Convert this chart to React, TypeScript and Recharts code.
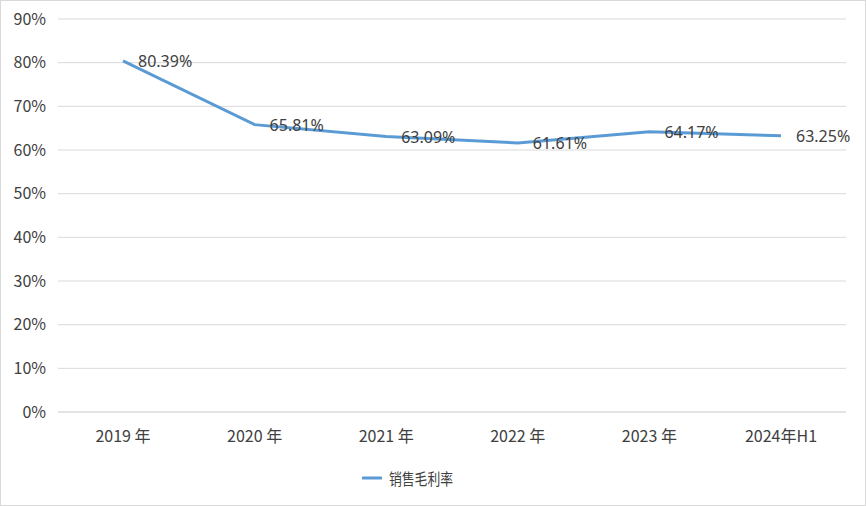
import React from "react";
import { LineChart, Line, XAxis, YAxis, CartesianGrid, LabelList } from "recharts";

const categories = ["2019 年", "2020 年", "2021 年", "2022 年", "2023 年", "2024年H1"];
const grossMargin = [80.39, 65.81, 63.09, 61.61, 64.17, 63.25];
const yTicks = [0, 10, 20, 30, 40, 50, 60, 70, 80, 90];
const seriesName = "销售毛利率";

const data = categories.map((name, i) => ({ name, value: grossMargin[i] }));

const LINE_COLOR = "#5B9BD5";
const TEXT_COLOR = "#404040";
const AXIS_FONT = "'Liberation Sans Narrow', 'Noto Sans CJK SC', sans-serif";
const LABEL_FONT = "'Noto Sans', 'Noto Sans CJK SC', sans-serif";

const ValueLabel = (props: any) => {
  const { x, y, value } = props;
  return (
    <text x={x + 15} y={y + 6} fontSize={16} fill={TEXT_COLOR} fontFamily={LABEL_FONT}>
      {`${value.toFixed(2)}%`}
    </text>
  );
};

const XTick = (props: any) => {
  const { x, y, payload } = props;
  return (
    <text x={x} y={y + 22} textAnchor="middle" fontSize={16} fill={TEXT_COLOR} fontFamily={AXIS_FONT}>
      {payload.value}
    </text>
  );
};

export default function App() {
  return (
    <div>
      <style>{`body{margin:0}`}</style>
      <div style={{ position: "relative", width: 866, height: 506, boxSizing: "border-box", border: "1px solid #d9d9d9", background: "#fff" }}>
        <div style={{ position: "absolute", left: -1, top: -1 }}>
          <LineChart width={866} height={506} data={data} margin={{ top: 19, right: 20, left: 0, bottom: 64 }}>
            <CartesianGrid vertical={false} stroke="#d9d9d9" strokeWidth={1} />
            <XAxis
              dataKey="name"
              height={30}
              axisLine={{ stroke: "#d9d9d9" }}
              tickLine={false}
              tick={<XTick />}
              interval={0}
              padding={{ left: 65, right: 65 }}
            />
            <YAxis
              width={58}
              domain={[0, 90]}
              ticks={yTicks}
              axisLine={false}
              tickLine={false}
              tickMargin={6}
              tickFormatter={(v: number) => `${v}%`}
              tick={{ fontSize: 16, fill: TEXT_COLOR, fontFamily: AXIS_FONT }}
            />
            <Line
              type="linear"
              dataKey="value"
              name={seriesName}
              stroke={LINE_COLOR}
              strokeWidth={3}
              dot={false}
              isAnimationActive={false}
            >
              <LabelList dataKey="value" content={<ValueLabel />} />
            </Line>
          </LineChart>
          <div
            style={{
              position: "absolute",
              left: 362,
              top: 466,
              display: "flex",
              alignItems: "center",
              fontFamily: AXIS_FONT,
              fontSize: 16,
              color: TEXT_COLOR,
            }}
          >
            <svg width={20} height={6} style={{ marginRight: 7 }}>
              <line x1={1} y1={3} x2={19} y2={3} stroke={LINE_COLOR} strokeWidth={3} strokeLinecap="round" />
            </svg>
            <span style={{ display: "inline-block", transform: "scaleX(0.8)", transformOrigin: "left center" }}>{seriesName}</span>
          </div>
        </div>
      </div>
    </div>
  );
}
